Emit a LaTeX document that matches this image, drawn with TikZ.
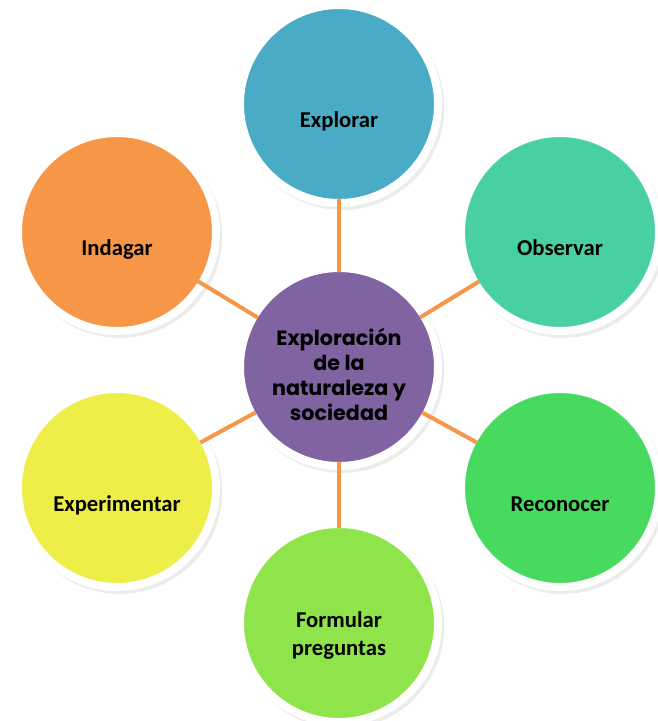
\documentclass[tikz,border=0pt]{standalone}
\usepackage{fontspec}
\setmainfont{Carlito}
\newfontfamily\centrofont{Poppins}
\usetikzlibrary{shadows}
\definecolor{expPurple}{HTML}{8064A2}
\definecolor{expAqua}{HTML}{4AABC6}
\definecolor{expMint}{HTML}{48D0A3}
\definecolor{expGreen}{HTML}{47DA5E}
\definecolor{expLime}{HTML}{8FE44B}
\definecolor{expYellow}{HTML}{EDEE47}
\definecolor{expOrange}{HTML}{F79646}
\tikzset{
  exp bubble/.style={circle, fill=#1, draw=white, line width=6pt, minimum size=148.5pt, inner sep=0pt,
    align=center, font=\bfseries\fontsize{17}{21}\selectfont,
    drop shadow={shadow scale=1.035, shadow xshift=2pt, shadow yshift=-2.5pt, opacity=0.15}},
  exp one line/.style={text height=35.5pt, text depth=0pt},
  exp link/.style={draw=expOrange, line width=3pt, shorten <=-6pt, shorten >=-6pt},
}
\begin{document}
\begin{tikzpicture}[x=0.75pt, y=-0.75pt]
  \useasboundingbox (0,0) rectangle (657,721);

  % Central topic
  \node[exp bubble=expPurple, font=\centrofont\bfseries\fontsize{15.5}{18.75}\selectfont, text height=81pt]
    (centro) at (339,367) {Exploración\\de la\\naturaleza y\\sociedad};

  % Six steps round it, clockwise from the top
  \node[exp bubble=expAqua, exp one line] (explorar) at (339,104) {Explorar};
  \node[exp bubble=expMint, exp one line] (observar) at (560,232) {Observar};
  \node[exp bubble=expGreen, exp one line] (reconocer) at (560,488) {Reconocer};
  \node[exp bubble=expLime, text height=51pt] (formular) at (339,623) {Formular\\preguntas};
  \node[exp bubble=expYellow, exp one line] (experimentar) at (117,488) {Experimentar};
  \node[exp bubble=expOrange, exp one line] (indagar) at (117,232) {Indagar};

  % Spokes from the centre
  \foreach \n in {explorar,observar,reconocer,formular,experimentar,indagar} {
    \draw[exp link] (centro) -- (\n);
  }
\end{tikzpicture}
\end{document}
